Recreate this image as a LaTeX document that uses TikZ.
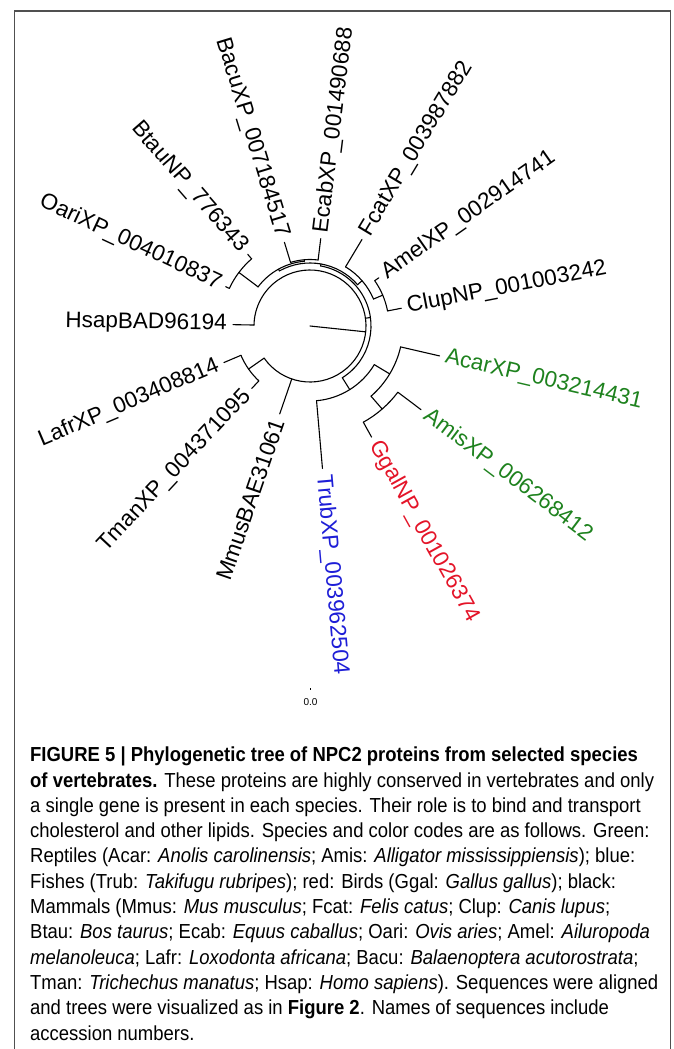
\documentclass[tikz,border=0pt]{standalone}
\usepackage{fontspec}
\setmainfont{Liberation Sans}
\newfontfamily\capfont{Liberation Sans}[FakeStretch=0.91]
\definecolor{repgreen}{RGB}{30,130,30}
\definecolor{birdred}{RGB}{228,20,40}
\definecolor{fishblue}{RGB}{30,30,215}
\definecolor{framegray}{RGB}{80,80,80}
\newcommand\phyarc[4]{% name, radius, from, to
  \draw[branch] (#3:#2pt) coordinate (#1) arc[start angle=#3, end angle=#4, radius=#2pt];}
\newcommand\phyedge[4]{% name, angle, r1, r2
  \coordinate (#1-base) at (#2:#3pt);
  \coordinate (#1) at (#2:#4pt);
  \draw[branch] (#1-base) -- (#1);}
\begin{document}
\begin{tikzpicture}[x=1pt,y=1pt,
  branch/.style={line width=1.1pt, black, line cap=round},
  tiplabel/.style={inner sep=0pt, font=\fontsize{22.5}{27}\selectfont},
  capline/.style={anchor=base west, inner sep=0pt, font=\capfont\fontsize{20.3}{25.3}\selectfont},
]
\useasboundingbox (0,0) rectangle (673,-1049);
\fill[white] (0,0) rectangle (673,-1049);
\draw[framegray, line width=1.6pt] (14.5,-1049) -- (14.5,-11) -- (670.5,-11) -- (670.5,-1049);

\begin{scope}[shift={(310,-326)}]
\coordinate (root) at (0,0);
\coordinate (R0) at (354:56pt);
\draw[branch] (root) -- (R0);
% root node arc
\phyarc{R0arc}{56}{215}{539}
\phyedge{LT}{215}{56}{75}
\phyedge{Mmus}{251}{56}{93}
\phyedge{Hsap}{179}{56}{77}
\phyedge{N1}{8}{56}{61}
% Lafr / Tman
\phyarc{LTarc}{75}{203}{227}
\phyedge{Lafr}{203}{75}{93.5}
\phyedge{Tman}{227}{75}{85.5}
% N1
\phyarc{N1arc}{61}{-58}{80}
\phyedge{T}{302}{61}{75}
\phyarc{Tarc}{75}{275}{329}
\phyedge{Trub}{275}{75}{143}
\phyedge{S}{329}{75}{93}
\phyarc{Sarc}{93}{311}{347}
\phyedge{GA}{311}{93}{110}
\phyedge{Acar}{347}{93}{133}
\phyarc{GAarc}{110}{299}{323}
\phyedge{Ggal}{299}{110}{127}
\phyedge{Amis}{323}{110}{139}
% N2
\phyedge{N2}{80}{61}{63}
\phyarc{N2arc}{63}{41}{119}
\phyedge{F}{41}{63}{69}
\phyarc{Farc}{69}{23}{59}
\phyedge{Fcat}{59}{69}{101}
\phyedge{AC}{23}{69}{79}
\phyarc{ACarc}{79}{11}{35}
\phyedge{Clup}{11}{79}{93}
\phyedge{Amel}{35}{79}{84}
% N3
\phyedge{N3}{119}{63}{65}
\phyarc{N3arc}{65}{95}{143}
\phyedge{EB}{95}{65}{66.5}
\phyarc{EBarc}{66.5}{83}{107}
\phyedge{Ecab}{83}{66.5}{88}
\phyedge{Bacu}{107}{66.5}{87.5}
\phyedge{BO}{143}{65}{89}
\phyarc{BOarc}{89}{131}{155}
\phyedge{Btau}{131}{89}{95}
\phyedge{Oari}{155}{89}{93}

% tip labels
\node[tiplabel, rotate=11, anchor=west] (lClup) at (11:99pt) {ClupNP\_001003242};
\node[tiplabel, rotate=35, anchor=west] (lAmel) at (35:90pt) {AmelXP\_002914741};
\node[tiplabel, rotate=59, anchor=west] (lFcat) at (59:107pt) {FcatXP\_003987882};
\node[tiplabel, rotate=83, anchor=west] (lEcab) at (83:94pt) {EcabXP\_001490688};
\node[tiplabel, rotate=-73, anchor=east] (lBacu) at (107:93.5pt) {BacuXP\_007184517};
\node[tiplabel, rotate=-49, anchor=east] (lBtau) at (131:101pt) {BtauNP\_776343};
\node[tiplabel, rotate=-25, anchor=east] (lOari) at (155:99pt) {OariXP\_004010837};
\node[tiplabel, rotate=-1, anchor=east] (lHsap) at (179:83pt) {HsapBAD96194};
\node[tiplabel, rotate=23, anchor=east] (lLafr) at (203:99.5pt) {LafrXP\_003408814};
\node[tiplabel, rotate=47, anchor=east] (lTman) at (227:91.5pt) {TmanXP\_004371095};
\node[tiplabel, rotate=71, anchor=east] (lMmus) at (251:99pt) {MmusBAE31061};
\node[tiplabel, rotate=-85, anchor=west, text=fishblue] (lTrub) at (275:149pt) {TrubXP\_003962504};
\node[tiplabel, rotate=-61, anchor=west, text=birdred] (lGgal) at (299:133pt) {GgalNP\_001026374};
\node[tiplabel, rotate=-37, anchor=west, text=repgreen] (lAmis) at (323:145pt) {AmisXP\_006268412};
\node[tiplabel, rotate=-13, anchor=west, text=repgreen] (lAcar) at (347:139pt) {AcarXP\_003214431};
\end{scope}

% scale bar
\coordinate (sb1) at (310.5,-688);
\coordinate (sb2) at (310.5,-690);
\draw[line width=0.8pt] (sb1) -- (sb2);
\node[inner sep=0pt, font=\fontsize{10}{12}\selectfont] (scale) at (310.5,-702) {0.0};

% caption
\node[capline] (c1) at (30,-761.7) {\textbf{FIGURE 5 | Phylogenetic tree of NPC2 proteins from selected species}};
\node[capline] (c2) at (30,-787.0) {\textbf{of vertebrates.} These proteins are highly conserved in vertebrates and only};
\node[capline] (c3) at (30,-812.3) {a single gene is present in each species. Their role is to bind and transport};
\node[capline] (c4) at (30,-837.6) {cholesterol and other lipids. Species and color codes are as follows. Green:};
\node[capline] (c5) at (30,-862.9) {Reptiles (Acar: \textit{Anolis carolinensis}; Amis: \textit{Alligator mississippiensis}); blue:};
\node[capline] (c6) at (30,-888.2) {Fishes (Trub: \textit{Takifugu rubripes}); red: Birds (Ggal: \textit{Gallus gallus}); black:};
\node[capline] (c7) at (30,-913.5) {Mammals (Mmus: \textit{Mus musculus}; Fcat: \textit{Felis catus}; Clup: \textit{Canis lupus};};
\node[capline] (c8) at (30,-938.8) {Btau: \textit{Bos taurus}; Ecab: \textit{Equus caballus}; Oari: \textit{Ovis aries}; Amel: \textit{Ailuropoda}};
\node[capline] (c9) at (30,-964.1) {\textit{melanoleuca}; Lafr: \textit{Loxodonta africana}; Bacu: \textit{Balaenoptera acutorostrata};};
\node[capline] (c10) at (30,-989.4) {Tman: \textit{Trichechus manatus}; Hsap: \textit{Homo sapiens}). Sequences were aligned};
\node[capline] (c11) at (30,-1014.7) {and trees were visualized as in \textbf{Figure 2}. Names of sequences include};
\node[capline] (c12) at (30,-1040.0) {accession numbers.};
\end{tikzpicture}
\end{document}
